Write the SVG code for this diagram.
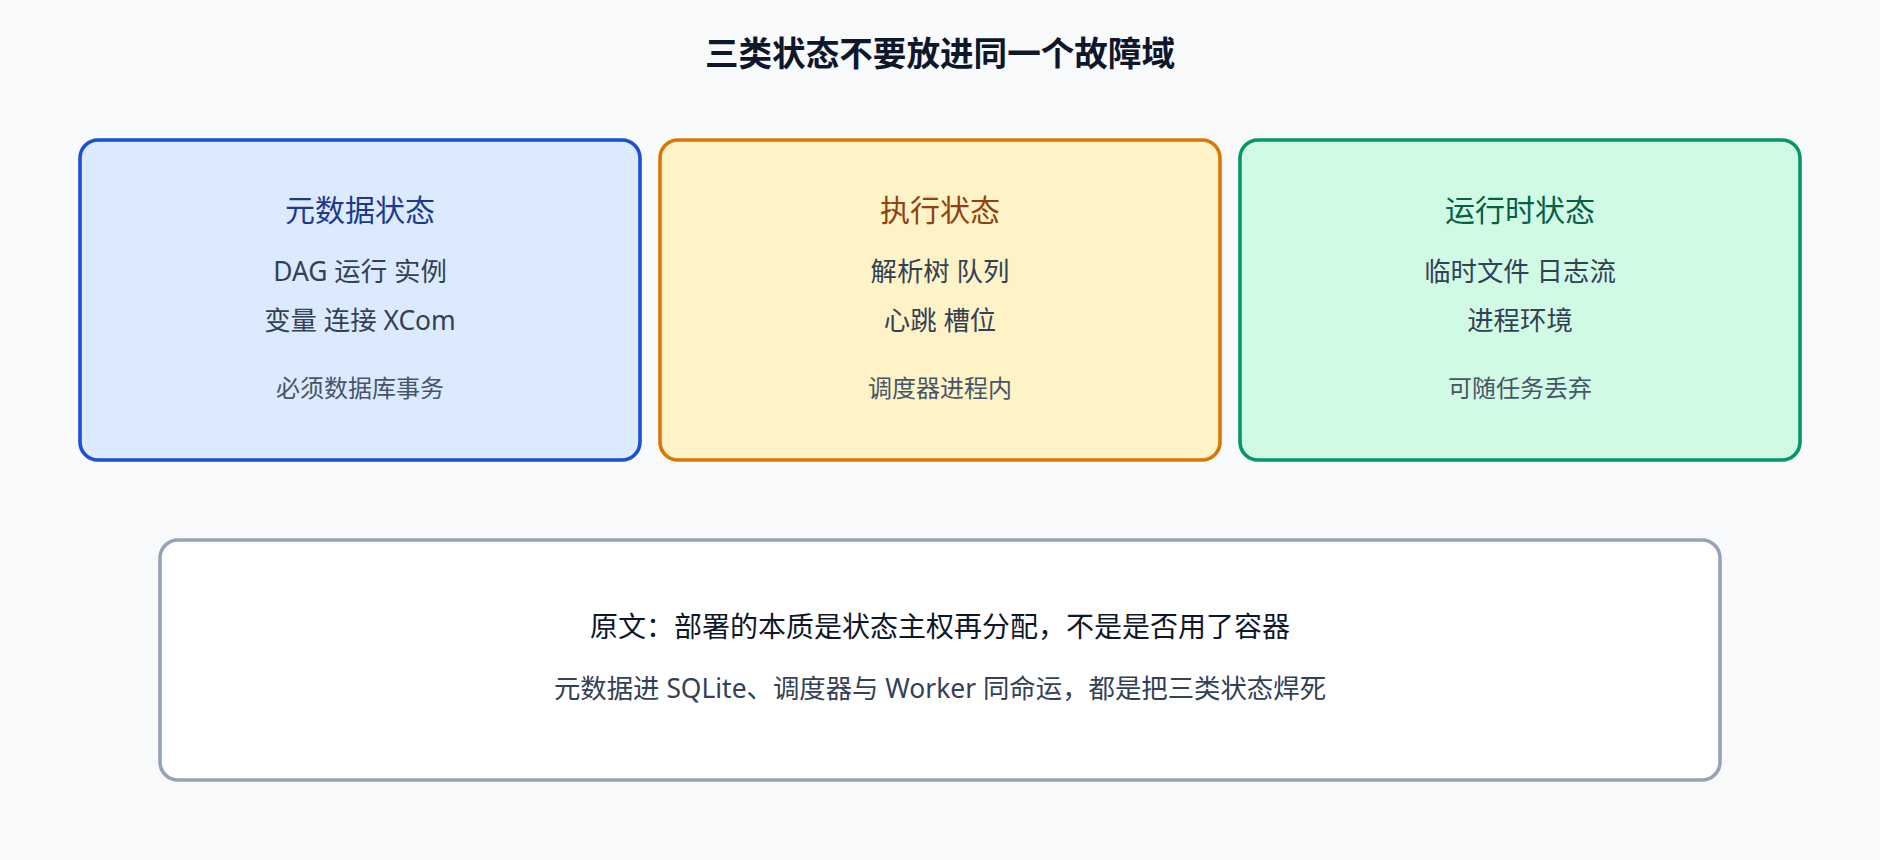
<svg xmlns="http://www.w3.org/2000/svg" width="1880" height="860" viewBox="0 0 1880 860">
  <style>
    text { font-family: "Noto Sans", "Noto Sans CJK SC", sans-serif; text-anchor: middle; }
    .title { font-size: 33.6px; font-weight: 700; fill: #0f172a; }
    .card { stroke-width: 3.6; }
    .head { font-size: 30px; }
    .item { font-size: 26.4px; fill: #334155; }
    .note { font-size: 24px; fill: #475569; }
    .main { font-size: 28px; fill: #0f172a; }
    .sub { font-size: 26.4px; fill: #334155; }
  </style>
  <rect x="0" y="0" width="1880" height="860" fill="#f8fafc"/>
  <text class="title" x="940" y="66">三类状态不要放进同一个故障域</text>

  <g id="metadata">
    <rect class="card" x="80" y="140" width="560" height="320" rx="18" fill="#dbeafe" stroke="#1d4ed8"/>
    <text class="head" x="360" y="221" fill="#1e3a8a">元数据状态</text>
    <text class="item" x="360" y="281">DAG 运行 实例</text>
    <text class="item" x="360" y="330">变量 连接 XCom</text>
    <text class="note" x="360" y="397">必须数据库事务</text>
  </g>

  <g id="execution">
    <rect class="card" x="660" y="140" width="560" height="320" rx="18" fill="#fef3c7" stroke="#d97706"/>
    <text class="head" x="940" y="221" fill="#92400e">执行状态</text>
    <text class="item" x="940" y="281">解析树 队列</text>
    <text class="item" x="940" y="330">心跳 槽位</text>
    <text class="note" x="940" y="397">调度器进程内</text>
  </g>

  <g id="runtime">
    <rect class="card" x="1240" y="140" width="560" height="320" rx="18" fill="#d1fae5" stroke="#059669"/>
    <text class="head" x="1520" y="221" fill="#065f46">运行时状态</text>
    <text class="item" x="1520" y="281">临时文件 日志流</text>
    <text class="item" x="1520" y="330">进程环境</text>
    <text class="note" x="1520" y="397">可随任务丢弃</text>
  </g>

  <g id="summary">
    <rect class="card" x="160" y="540" width="1560" height="240" rx="18" fill="#ffffff" stroke="#94a3b8"/>
    <text class="main" x="940" y="637">原文：部署的本质是状态主权再分配，不是是否用了容器</text>
    <text class="sub" x="940" y="698">元数据进 SQLite、调度器与 Worker 同命运，都是把三类状态焊死</text>
  </g>

  <g id="connectors"></g>
</svg>
